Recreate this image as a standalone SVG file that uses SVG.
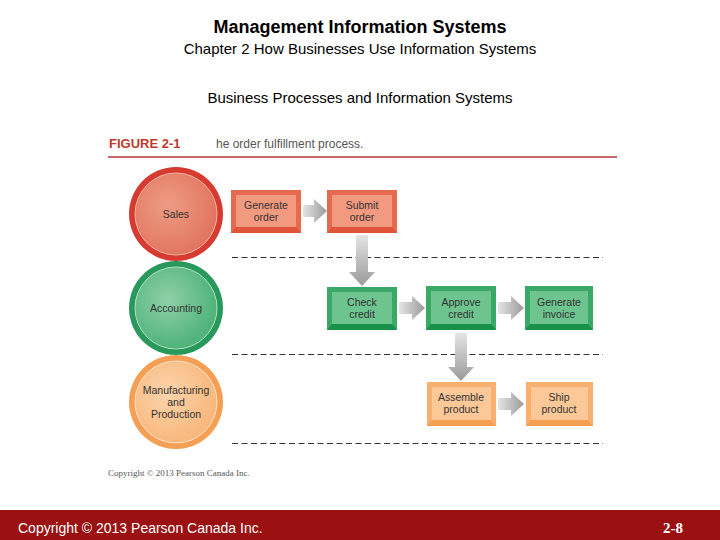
<svg xmlns="http://www.w3.org/2000/svg" width="720" height="540" viewBox="0 0 720 540">
<style>
.t{font-family:"Liberation Sans",Arial,sans-serif;fill:#000;text-anchor:middle}
.lbl{font-family:"Liberation Sans",Arial,sans-serif;font-size:10.5px;text-anchor:middle;fill:#333}
.dash{stroke:#333;stroke-width:1;stroke-dasharray:6,3.5;fill:none}
</style>
<defs>
<radialGradient id="gR" cx="0.4" cy="0.4" r="0.6"><stop offset="0" stop-color="#ee9c84"/><stop offset="1" stop-color="#e27660"/></radialGradient>
<radialGradient id="gG" cx="0.4" cy="0.4" r="0.6"><stop offset="0" stop-color="#8fd0a8"/><stop offset="1" stop-color="#4fb37a"/></radialGradient>
<radialGradient id="gO" cx="0.4" cy="0.4" r="0.6"><stop offset="0" stop-color="#fcd4ac"/><stop offset="1" stop-color="#f8b77c"/></radialGradient>
<linearGradient id="ah" x1="0" y1="0" x2="1" y2="0"><stop offset="0" stop-color="#e4e4e4"/><stop offset="1" stop-color="#9a9a9a"/></linearGradient>
<linearGradient id="av" x1="0" y1="0" x2="0" y2="1"><stop offset="0" stop-color="#e4e4e4"/><stop offset="1" stop-color="#9a9a9a"/></linearGradient>
</defs>
<rect width="720" height="540" fill="#fff"/>
<text class="t" x="360" y="33" font-size="18" font-weight="bold">Management Information Systems</text>
<text class="t" x="360" y="54" font-size="15">Chapter 2 How Businesses Use Information Systems</text>
<text class="t" x="360" y="103" font-size="15">Business Processes and Information Systems</text>
<text x="109" y="148" font-family="'Liberation Sans',Arial,sans-serif" font-size="13" font-weight="bold" fill="#c0392b">FIGURE 2-1</text>
<text x="216" y="148" font-family="'Liberation Sans',Arial,sans-serif" font-size="12" fill="#555">he order fulfillment process.</text>
<line x1="108" y1="157" x2="617" y2="157" stroke="#b8323a" stroke-width="1.3"/>

<g id="sales"><circle cx="176" cy="214" r="47" fill="#d63a30"/><circle cx="176" cy="214" r="41" fill="url(#gR)" stroke="#f3b3a0" stroke-width="1"/><text class="lbl" x="176" y="218">Sales</text></g>
<g id="accounting"><circle cx="176" cy="308" r="47" fill="#28995a"/><circle cx="176" cy="308" r="41" fill="url(#gG)" stroke="#b2e0c4" stroke-width="1"/><text class="lbl" x="176" y="312">Accounting</text></g>
<g id="manufacturing"><circle cx="176" cy="402" r="47" fill="#f59f55"/><circle cx="176" cy="402" r="41" fill="url(#gO)" stroke="#fde2c6" stroke-width="1"/><text class="lbl" x="176" y="394">Manufacturing</text><text class="lbl" x="176" y="406">and</text><text class="lbl" x="176" y="418">Production</text></g>

<g class="dashes"><line class="dash" x1="232" y1="257.5" x2="603" y2="257.5"/><line class="dash" x1="232" y1="354.5" x2="603" y2="354.5"/><line class="dash" x1="232" y1="443.5" x2="603" y2="443.5"/></g>

<g id="connectors">
<polygon points="303,205 314,205 314,199 327,211 314,223 314,217 303,217" fill="url(#ah)"/>
<polygon points="356,235 368,235 368,272 375,272 362,286 349,272 356,272" fill="url(#av)"/>
<polygon points="399,302 412,302 412,296 425,308 412,320 412,314 399,314" fill="url(#ah)"/>
<polygon points="498,302 511,302 511,296 524,308 511,320 511,314 498,314" fill="url(#ah)"/>
<polygon points="455,333 467,333 467,367 474,367 461,381 448,367 455,367" fill="url(#av)"/>
<polygon points="498,398 511,398 511,392 524,404 511,416 511,410 498,410" fill="url(#ah)"/>
</g>

<g id="generate-order"><rect x="231" y="190" width="70" height="43" fill="#e66a50"/><polygon points="231,233 301,233 296,227 236,227" fill="#e0543a"/><rect x="236" y="195" width="60" height="32" fill="#f29a80"/><text class="lbl" x="266" y="209">Generate</text><text class="lbl" x="266" y="221">order</text></g>
<g id="submit-order"><rect x="327" y="190" width="70" height="43" fill="#e66a50"/><polygon points="327,233 397,233 392,227 332,227" fill="#e0543a"/><rect x="332" y="195" width="60" height="32" fill="#f29a80"/><text class="lbl" x="362" y="209">Submit</text><text class="lbl" x="362" y="221">order</text></g>
<g id="check-credit"><rect x="327" y="287" width="70" height="43" fill="#3aa866"/><polygon points="327,330 397,330 392,324 332,324" fill="#1a9148"/><rect x="332" y="292" width="60" height="32" fill="#6ec48f"/><text class="lbl" x="362" y="306">Check</text><text class="lbl" x="362" y="318">credit</text></g>
<g id="approve-credit"><rect x="426" y="286" width="70" height="44" fill="#3aa866"/><polygon points="426,330 496,330 491,324 431,324" fill="#1a9148"/><rect x="431" y="291" width="60" height="33" fill="#6ec48f"/><text class="lbl" x="461" y="306">Approve</text><text class="lbl" x="461" y="318">credit</text></g>
<g id="generate-invoice"><rect x="525" y="286" width="68" height="44" fill="#3aa866"/><polygon points="525,330 593,330 588,324 530,324" fill="#1a9148"/><rect x="530" y="291" width="58" height="33" fill="#6ec48f"/><text class="lbl" x="559" y="306">Generate</text><text class="lbl" x="559" y="318">invoice</text></g>
<g id="assemble-product"><rect x="427" y="382" width="69" height="44" fill="#f8b070"/><polygon points="427,426 496,426 491,420 432,420" fill="#f5a050"/><rect x="432" y="387" width="59" height="33" fill="#fcc898"/><text class="lbl" x="461" y="401">Assemble</text><text class="lbl" x="461" y="413">product</text></g>
<g id="ship-product"><rect x="526" y="382" width="67" height="44" fill="#f8b070"/><polygon points="526,426 593,426 588,420 531,420" fill="#f5a050"/><rect x="531" y="387" width="57" height="33" fill="#fcc898"/><text class="lbl" x="559" y="401">Ship</text><text class="lbl" x="559" y="413">product</text></g>

<text x="108" y="476" font-family="'Liberation Serif','Times New Roman',serif" font-size="9" fill="#555">Copyright © 2013 Pearson Canada Inc.</text>

<rect x="0" y="510" width="720" height="30" fill="#9b1010"/>
<text x="18" y="533" font-family="'Liberation Sans',Arial,sans-serif" font-size="14" fill="#fff">Copyright © 2013 Pearson Canada Inc.</text>
<text x="683" y="533" text-anchor="end" font-family="'Liberation Serif','Times New Roman',serif" font-size="15" font-weight="bold" fill="#fff">2-8</text>
</svg>
